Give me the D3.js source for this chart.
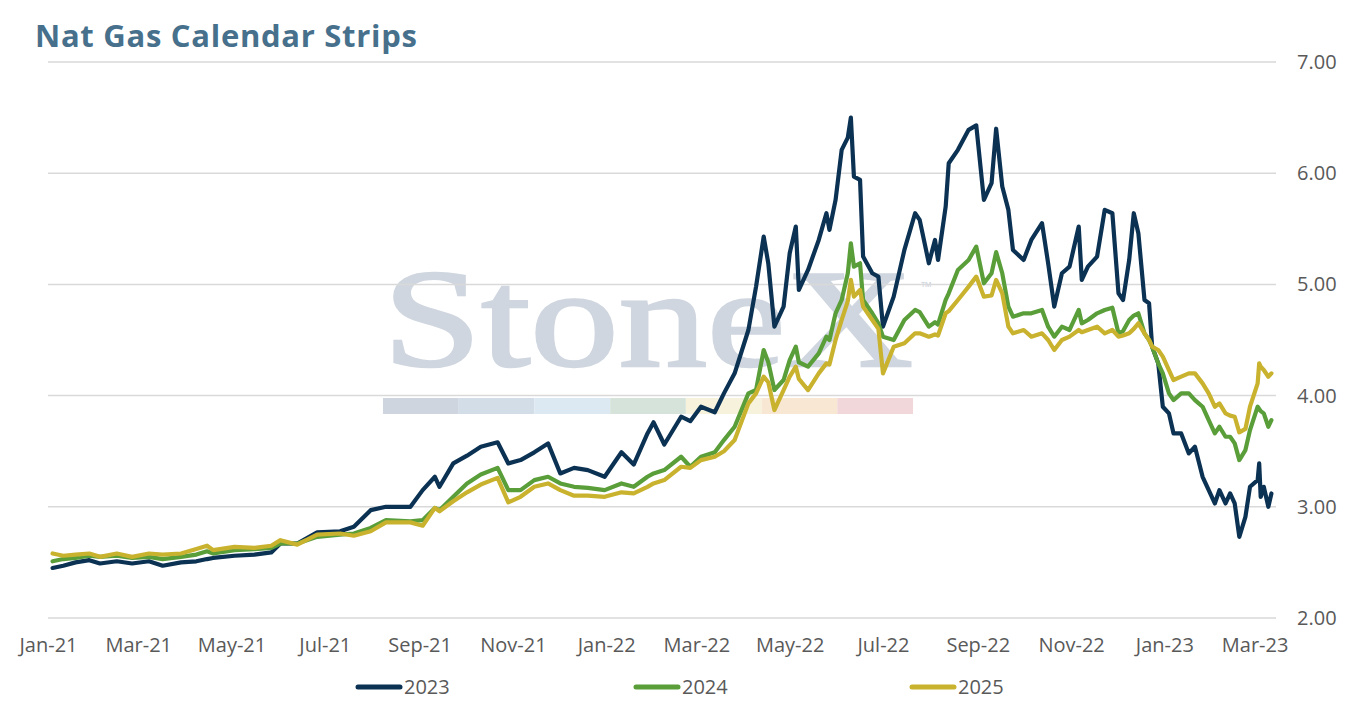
<!DOCTYPE html>
<html>
<head>
<meta charset="utf-8">
<script src="https://cdn.jsdelivr.net/npm/d3@7"></script>
<style>
  body { margin: 0; background: #fff; }
  svg { display: block; font-family: "Open Sans", Lato, sans-serif; }
</style>
</head>
<body>
<svg id="chart" width="1354" height="707"></svg>
<script>
// readings taken off the chart, roughly weekly, denser where the lines spike
const dates = [
  '2021-01-04','2021-01-11','2021-01-19','2021-01-28','2021-02-04','2021-02-15','2021-02-25','2021-03-08',
  '2021-03-17','2021-03-29','2021-04-08','2021-04-15','2021-04-19','2021-05-03','2021-05-16','2021-05-27',
  '2021-06-02','2021-06-13','2021-06-26','2021-07-11','2021-07-20','2021-07-31','2021-08-10','2021-08-26',
  '2021-09-03','2021-09-11','2021-09-14','2021-09-23','2021-10-02','2021-10-11','2021-10-22','2021-10-29',
  '2021-11-06','2021-11-15','2021-11-24','2021-12-02','2021-12-11','2021-12-20','2021-12-31','2022-01-11',
  '2022-01-19','2022-01-28','2022-02-01','2022-02-08','2022-02-19','2022-02-25','2022-03-04','2022-03-13',
  '2022-03-19','2022-03-26','2022-04-04','2022-04-09','2022-04-14','2022-04-17','2022-04-21','2022-04-27',
  '2022-05-01','2022-05-05','2022-05-07','2022-05-13','2022-05-20','2022-05-25','2022-05-27','2022-05-31',
  '2022-06-04','2022-06-08','2022-06-10','2022-06-12','2022-06-16','2022-06-18','2022-06-24','2022-06-28',
  '2022-07-01','2022-07-08','2022-07-15','2022-07-22','2022-07-25','2022-07-31','2022-08-04','2022-08-06',
  '2022-08-11','2022-08-13','2022-08-19','2022-08-26','2022-08-31','2022-09-05','2022-09-10','2022-09-13',
  '2022-09-17','2022-09-21','2022-09-24','2022-10-01','2022-10-06','2022-10-13','2022-10-17','2022-10-21',
  '2022-10-26','2022-10-31','2022-11-06','2022-11-08','2022-11-12','2022-11-18','2022-11-23','2022-11-28',
  '2022-12-02','2022-12-05','2022-12-09','2022-12-12','2022-12-15','2022-12-19','2022-12-22','2022-12-24',
  '2022-12-28','2022-12-31','2023-01-04','2023-01-07','2023-01-12','2023-01-17','2023-01-21','2023-01-26',
  '2023-01-30','2023-02-03','2023-02-06','2023-02-10','2023-02-13','2023-02-16','2023-02-19','2023-02-23',
  '2023-02-26','2023-03-03','2023-03-04','2023-03-05','2023-03-07','2023-03-10','2023-03-12'
];

const strip2023 = [
  2.45,2.47,2.50,2.52,2.49,2.51,2.49,2.51, 2.47,2.50,2.51,2.53,2.54,2.56,2.57,2.59,
  2.67,2.67,2.77,2.78,2.82,2.97,3.00,3.00, 3.15,3.27,3.18,3.39,3.46,3.54,3.58,3.39,
  3.42,3.49,3.57,3.30,3.35,3.33,3.27,3.49, 3.38,3.66,3.76,3.56,3.81,3.77,3.90,3.85,
  4.02,4.20,4.59,4.98,5.43,5.19,4.62,4.80, 5.28,5.52,4.95,5.13,5.40,5.64,5.49,5.76,
  6.21,6.32,6.50,5.97,5.94,5.25,5.10,5.07, 4.62,4.89,5.31,5.64,5.58,5.19,5.40,5.22,
  5.70,6.09,6.21,6.39,6.43,5.76,5.91,6.40, 5.88,5.67,5.31,5.22,5.40,5.55,5.19,4.80,
  5.10,5.16,5.52,5.04,5.16,5.25,5.67,5.64, 4.92,4.86,5.22,5.64,5.46,4.86,4.83,4.44,
  4.29,3.90,3.84,3.66,3.66,3.48,3.54,3.27, 3.15,3.03,3.15,3.03,3.12,3.03,2.73,2.91,
  3.18,3.24,3.39,3.09,3.18,3.00,3.12
];

const strip2024 = [
  2.51,2.53,2.54,2.56,2.55,2.56,2.54,2.55, 2.53,2.55,2.57,2.60,2.58,2.61,2.62,2.63,
  2.67,2.67,2.73,2.75,2.76,2.81,2.88,2.87, 2.88,2.99,2.97,3.09,3.21,3.29,3.35,3.15,
  3.15,3.24,3.27,3.21,3.18,3.17,3.15,3.21, 3.18,3.27,3.30,3.33,3.45,3.36,3.45,3.49,
  3.60,3.72,4.02,4.05,4.41,4.30,4.05,4.14, 4.32,4.44,4.30,4.26,4.38,4.53,4.50,4.74,
  4.86,5.10,5.37,5.16,5.19,4.86,4.74,4.65, 4.53,4.50,4.68,4.77,4.75,4.62,4.66,4.64,
  4.86,4.92,5.13,5.22,5.34,5.01,5.10,5.29, 5.10,4.80,4.71,4.74,4.74,4.77,4.62,4.53,
  4.62,4.59,4.77,4.65,4.68,4.74,4.77,4.79, 4.56,4.58,4.68,4.72,4.74,4.56,4.50,4.44,
  4.29,4.20,4.02,3.96,4.02,4.02,3.96,3.90, 3.78,3.66,3.72,3.63,3.63,3.57,3.42,3.51,
  3.69,3.90,3.88,3.86,3.84,3.72,3.78
];

const strip2025 = [
  2.58,2.56,2.57,2.58,2.55,2.58,2.55,2.58, 2.57,2.58,2.62,2.65,2.61,2.64,2.63,2.65,
  2.70,2.66,2.75,2.76,2.74,2.78,2.86,2.86, 2.83,2.99,2.96,3.05,3.13,3.20,3.26,3.04,
  3.09,3.18,3.21,3.15,3.10,3.10,3.09,3.13, 3.12,3.18,3.21,3.24,3.36,3.35,3.42,3.45,
  3.50,3.60,3.93,4.02,4.17,4.12,3.87,4.05, 4.17,4.26,4.15,4.05,4.20,4.29,4.28,4.50,
  4.68,4.85,5.04,4.89,4.95,4.80,4.68,4.60, 4.20,4.44,4.47,4.56,4.56,4.53,4.55,4.54,
  4.74,4.76,4.86,4.98,5.07,4.89,4.90,5.04, 4.92,4.62,4.56,4.59,4.53,4.56,4.50,4.41,
  4.50,4.53,4.59,4.57,4.59,4.62,4.56,4.59, 4.53,4.54,4.56,4.60,4.65,4.56,4.50,4.44,
  4.41,4.35,4.23,4.14,4.17,4.20,4.20,4.11, 4.02,3.90,3.93,3.84,3.82,3.81,3.67,3.70,
  3.90,4.11,4.29,4.26,4.23,4.17,4.20
];

const seriesNames = ['2023', '2024', '2025'];
const seriesColors = ['#0b3153', '#5a9e3a', '#c9b22d'];
const yTicks = [2, 3, 4, 5, 6, 7];
const xTickDates = [
  '2021-01-01','2021-03-01','2021-05-01','2021-07-01','2021-09-01','2021-11-01','2022-01-01',
  '2022-03-01','2022-05-01','2022-07-01','2022-09-01','2022-11-01','2023-01-01','2023-03-01'
];
const logoBands = ['#cfd5de', '#d3dde8', '#dde9f2', '#d6e3da', '#f6f2dc', '#f8e7d3', '#f1d7d9'];

const parse = d3.timeParse('%Y-%m-%d');
const svg = d3.select('#chart');

const x = d3.scaleTime()
  .domain([parse('2021-01-01'), parse('2023-03-15')])
  .range([48, 1276]);
const y = d3.scaleLinear().domain([2, 7]).range([618, 62]);

// title
svg.append('text')
  .attr('x', 35)
  .attr('y', 47)
  .attr('font-size', 31)
  .attr('font-weight', 700)
  .attr('fill', '#47708c')
  .attr('textLength', 382)
  .attr('lengthAdjust', 'spacing')
  .text('Nat Gas Calendar Strips');

// watermark
const logo = svg.append('g');
logo.append('text')
  .attr('x', 383)
  .attr('y', 366)
  .attr('font-family', '"Liberation Serif", "DejaVu Serif", serif')
  .attr('font-size', 140)
  .attr('fill', '#cfd6df')
  .attr('stroke', '#cfd6df')
  .attr('stroke-width', 2.5)
  .attr('textLength', 530)
  .attr('lengthAdjust', 'spacingAndGlyphs')
  .text('StoneX');
logo.append('text')
  .attr('x', 921)
  .attr('y', 292)
  .attr('font-size', 14)
  .attr('fill', '#cfd6df')
  .text('\u2122');
const bandX = d3.scaleBand().domain(d3.range(logoBands.length)).range([383, 913]);
logo.selectAll('rect')
  .data(logoBands)
  .join('rect')
  .attr('x', (d, i) => bandX(i))
  .attr('y', 398)
  .attr('width', bandX.bandwidth())
  .attr('height', 16)
  .attr('fill', d => d);

// gridlines
svg.append('g')
  .selectAll('line')
  .data(yTicks)
  .join('line')
  .attr('x1', 48)
  .attr('x2', 1276)
  .attr('y1', d => y(d))
  .attr('y2', d => y(d))
  .attr('stroke', '#d9d9d9')
  .attr('stroke-width', 1.5);

// y axis on the right
const yAxis = svg.append('g')
  .attr('transform', 'translate(1276,0)')
  .call(d3.axisRight(y).tickValues(yTicks).tickFormat(d3.format('.2f')).tickSize(0).tickPadding(21));
yAxis.select('.domain').remove();
yAxis.selectAll('text')
  .attr('font-family', '"Open Sans", sans-serif')
  .attr('font-size', 20)
  .attr('fill', '#595959');

// x axis
const xAxis = svg.append('g')
  .attr('transform', 'translate(0,618)')
  .call(d3.axisBottom(x)
    .tickValues(xTickDates.map(parse))
    .tickFormat(d3.timeFormat('%b-%y'))
    .tickSize(0)
    .tickPadding(20));
xAxis.select('.domain').remove();
xAxis.selectAll('text')
  .attr('font-family', '"Open Sans", sans-serif')
  .attr('font-size', 20)
  .attr('fill', '#595959');

// lines
const seriesValues = [strip2023, strip2024, strip2025];
const line = d3.line()
  .x(d => x(d.date))
  .y(d => y(d.value));

seriesValues.forEach((vals, k) => {
  const pts = dates.map((d, i) => ({ date: parse(d), value: vals[i] }));
  svg.append('path')
    .datum(pts)
    .attr('fill', 'none')
    .attr('stroke', seriesColors[k])
    .attr('stroke-width', 4.2)
    .attr('stroke-linejoin', 'round')
    .attr('stroke-linecap', 'round')
    .attr('d', line);
});

// legend
const legendX = [356, 634, 910];
const legend = svg.append('g')
  .selectAll('g')
  .data(seriesNames)
  .join('g')
  .attr('transform', (d, i) => `translate(${legendX[i]},687)`);
legend.append('line')
  .attr('x1', 2)
  .attr('x2', 44)
  .attr('stroke', (d, i) => seriesColors[i])
  .attr('stroke-width', 5)
  .attr('stroke-linecap', 'round');
legend.append('text')
  .attr('x', 48)
  .attr('y', 7)
  .attr('font-size', 20)
  .attr('fill', '#595959')
  .text(d => d);
</script>
</body>
</html>
